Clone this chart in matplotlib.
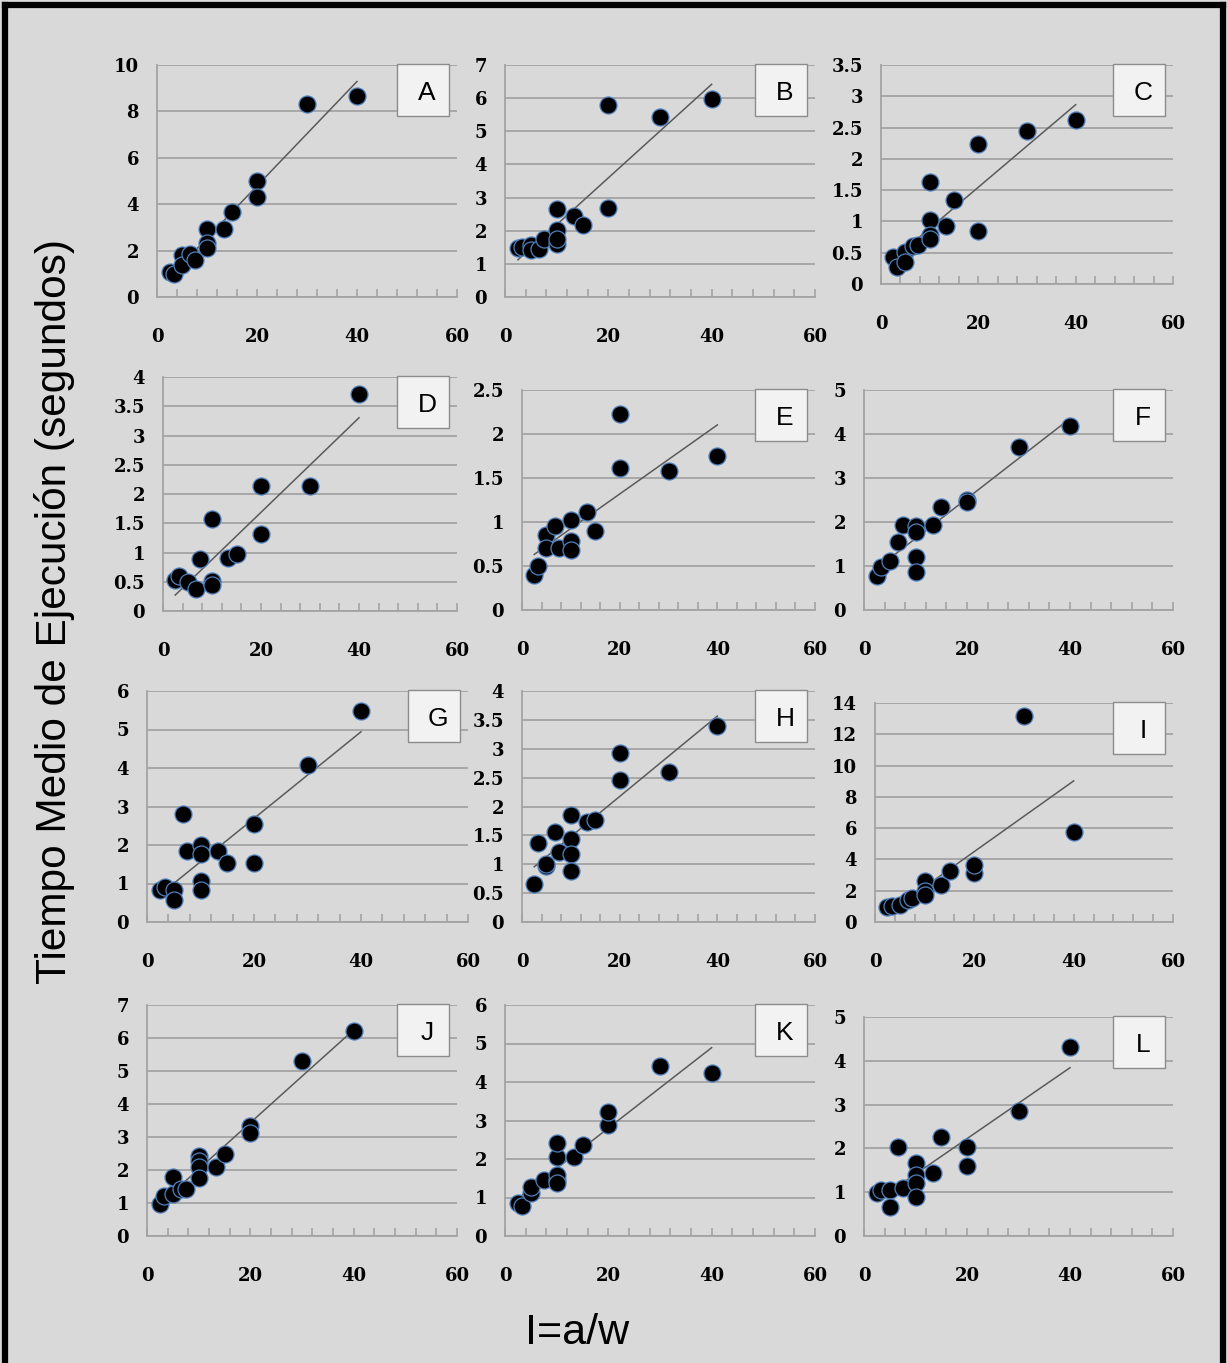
import numpy as np
import matplotlib
matplotlib.use("Agg")
import matplotlib.pyplot as plt
from matplotlib.patches import Rectangle
from matplotlib.lines import Line2D
from matplotlib.ticker import MultipleLocator

# relación I = a/w de cada medición y tiempo medio (s) por grupo
x_A = [2.5, 3.33, 5, 5, 6.67, 7.5, 10, 10, 10, 13.33, 15, 20, 20, 30, 40]
y_A = [1.08, 0.98, 1.80, 1.37, 1.84, 1.61, 2.95, 2.33, 2.13, 2.95, 3.67, 4.99, 4.29, 8.30, 8.66]

x_B = [2.5, 3.33, 5, 5, 6.67, 7.5, 10, 10, 10, 10, 13.33, 15, 20, 20, 30, 40]
y_B = [1.49, 1.50, 1.58, 1.41, 1.46, 1.76, 2.65, 2.01, 1.61, 1.76, 2.45, 2.17, 5.79, 2.70, 5.44, 5.96]

x_C = [2.5, 3.33, 5, 5, 6.67, 7.5, 10, 10, 10, 10, 13.33, 15, 20, 20, 30, 40]
y_C = [0.43, 0.27, 0.51, 0.35, 0.60, 0.63, 1.63, 1.03, 0.79, 0.72, 0.93, 1.35, 2.24, 0.85, 2.44, 2.62]

x_D = [2.5, 3.33, 5, 6.67, 7.5, 10, 10, 10, 13.33, 15, 20, 20, 30, 40]
y_D = [0.53, 0.60, 0.49, 0.38, 0.89, 1.58, 0.51, 0.45, 0.91, 0.97, 2.14, 1.31, 2.14, 3.71]

x_E = [2.5, 3.33, 5, 5, 6.67, 7.5, 10, 10, 10, 13.33, 15, 20, 20, 30, 40]
y_E = [0.40, 0.50, 0.85, 0.71, 0.95, 0.71, 1.02, 0.78, 0.68, 1.11, 0.90, 2.23, 1.61, 1.58, 1.75]

x_F = [2.5, 3.33, 5, 6.67, 7.5, 10, 10, 10, 10, 13.33, 15, 20, 20, 30, 40]
y_F = [0.78, 0.98, 1.12, 1.55, 1.93, 1.92, 1.78, 1.21, 0.86, 1.93, 2.33, 2.50, 2.45, 3.71, 4.18]

x_G = [2.5, 3.33, 5, 5, 6.67, 7.5, 10, 10, 10, 10, 13.33, 15, 20, 20, 30, 40]
y_G = [0.84, 0.91, 0.84, 0.56, 2.81, 1.84, 1.99, 1.77, 1.06, 0.84, 1.84, 1.52, 2.54, 1.54, 4.09, 5.48]

x_H = [2.5, 3.33, 5, 5, 6.67, 7.5, 10, 10, 10, 10, 13.33, 15, 20, 20, 30, 40]
y_H = [0.66, 1.37, 0.97, 1.00, 1.56, 1.21, 1.86, 1.44, 1.17, 0.89, 1.73, 1.77, 2.93, 2.46, 2.60, 3.39]

x_I = [2.5, 3.33, 5, 6.67, 7.5, 10, 10, 10, 13.33, 15, 20, 20, 30, 40]
y_I = [0.96, 1.04, 1.06, 1.38, 1.53, 2.59, 1.95, 1.74, 2.34, 3.23, 3.12, 3.65, 13.15, 5.74]

x_J = [2.5, 3.33, 5, 5, 6.67, 7.5, 10, 10, 10, 10, 13.33, 15, 20, 20, 30, 40]
y_J = [0.98, 1.20, 1.28, 1.79, 1.42, 1.42, 2.43, 2.28, 2.09, 1.77, 2.09, 2.47, 3.34, 3.13, 5.30, 6.22]

x_K = [2.5, 3.33, 5, 5, 7.5, 10, 10, 10, 10, 10, 13.33, 15, 20, 20, 30, 40]
y_K = [0.86, 0.78, 1.12, 1.27, 1.45, 1.45, 1.58, 2.05, 2.42, 1.38, 2.05, 2.36, 2.88, 3.22, 4.42, 4.23]

x_L = [2.5, 3.33, 5, 5, 6.67, 7.5, 10, 10, 10, 10, 13.33, 15, 20, 20, 30, 40]
y_L = [0.98, 1.05, 1.05, 0.66, 2.03, 1.10, 1.67, 1.39, 1.21, 0.89, 1.44, 2.26, 2.03, 1.60, 2.85, 4.31]

letras = ["A", "B", "C", "D", "E", "F", "G", "H", "I", "J", "K", "L"]
xs = [x_A, x_B, x_C, x_D, x_E, x_F, x_G, x_H, x_I, x_J, x_K, x_L]
ys = [y_A, y_B, y_C, y_D, y_E, y_F, y_G, y_H, y_I, y_J, y_K, y_L]
y_max = [10, 7, 3.5, 4, 2.5, 5, 6, 4, 14, 7, 6, 5]
y_paso = [2, 1, 0.5, 0.5, 0.5, 1, 1, 0.5, 2, 1, 1, 1]

# posición de cada panel en píxeles: izquierda, derecha, arriba, abajo
W, H = 1227, 1363
cajas = [
    (157, 457, 65, 297), (505, 815, 65, 297), (881, 1173, 65, 284),
    (163, 457, 377, 611), (522, 815, 390, 610), (864, 1173, 390, 610),
    (147, 468, 691, 922), (522, 815, 691, 922), (875, 1173, 703, 922),
    (147, 457, 1005, 1236), (505, 815, 1005, 1236), (864, 1173, 1017, 1236),
]

fondo = "#d9d9d9"
gris = "#a3a3a3"

fig = plt.figure(figsize=(W / 100, H / 100), dpi=100)
fig.patch.set_facecolor(fondo)

for i in range(12):
    l, r, t, b = cajas[i]
    ax = fig.add_axes([l / W, 1 - b / H, (r - l) / W, (b - t) / H])
    ax.set_facecolor(fondo)
    x = np.array(xs[i])
    y = np.array(ys[i])

    # recta de tendencia lineal
    m, c = np.polyfit(x, y, 1)
    xr = np.array([x.min(), x.max()])
    ax.plot(xr, m * xr + c, color="#5a5a5a", lw=1.1, zorder=2)

    ax.scatter(x, y, s=150, color="black", edgecolors="#4f81bd",
               linewidths=0.9, zorder=3)

    ax.set_xlim(0, 60)
    ax.set_ylim(0, y_max[i])
    ax.xaxis.set_major_locator(MultipleLocator(20))
    ax.xaxis.set_minor_locator(MultipleLocator(4))
    ax.yaxis.set_major_locator(MultipleLocator(y_paso[i]))
    ax.yaxis.set_major_formatter(plt.FuncFormatter(lambda v, p: f"{v:g}"))
    ax.grid(axis="y", color=gris, lw=1.3)
    ax.set_axisbelow(True)
    for s in ["top", "right"]:
        ax.spines[s].set_visible(False)
    for s in ["left", "bottom"]:
        ax.spines[s].set_color(gris)
        ax.spines[s].set_linewidth(1.3)
    ax.tick_params(axis="x", which="both", direction="in", length=6,
                   color=gris, width=1.2, pad=22)
    ax.tick_params(axis="y", length=0, pad=13)
    for lab in ax.get_xticklabels() + ax.get_yticklabels():
        lab.set_fontfamily("DejaVu Serif")
        lab.set_fontweight("bold")
        lab.set_fontsize(13)

    # recuadro con la letra del panel
    bx0 = (r - 60) / W
    by0 = 1 - (t + 51) / H
    fig.add_artist(Rectangle((bx0, by0), 52 / W, 52 / H, transform=fig.transFigure,
                             facecolor="#f2f2f2", edgecolor="#8c8c8c", lw=1.0,
                             zorder=5))
    fig.text(bx0 + 30 / W, by0 + 23 / H, letras[i], ha="center", va="center",
             fontsize=19, family="Liberation Sans", zorder=6)

fig.text(55 / W, 1 - 611 / H, "Tiempo Medio de Ejecución (segundos)",
         rotation=90, ha="center", va="center", fontsize=30.5,
         family="Liberation Sans")
fig.text(577 / W, 1 - 1333 / H, "I=a/w", ha="center", va="center",
         fontsize=31, family="Liberation Sans")

# marco negro exterior
for (x0, y0, x1, y1) in [(5, H, 5, 5), (5, 5, W - 4, 5), (W - 4, 5, W - 4, H)]:
    fig.add_artist(Line2D([x0 / W, x1 / W], [1 - y0 / H, 1 - y1 / H],
                          transform=fig.transFigure, color="black", lw=4.5))

fig.savefig("out.png", dpi=100, facecolor=fondo)
